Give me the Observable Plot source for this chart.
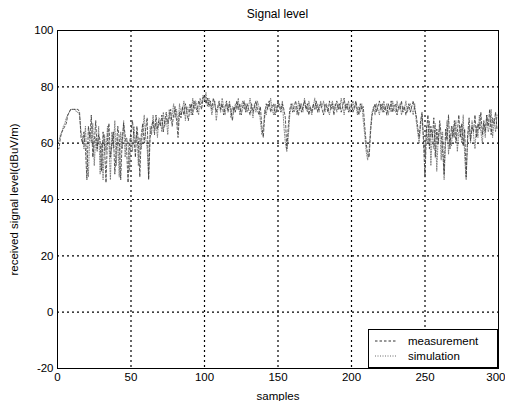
<!DOCTYPE html>
<html>
<head>
<meta charset="utf-8">
<script src="https://cdn.jsdelivr.net/npm/d3@7"></script>
<script src="https://cdn.jsdelivr.net/npm/@observablehq/plot@0.6"></script>
<style>
  html, body { margin: 0; padding: 0; background: #fff; }
  #wrap { position: relative; width: 505px; height: 401px; overflow: hidden; font-family: "Liberation Sans", Arial, sans-serif; }
  #title { position: absolute; left: 0; top: 7px; width: 505px; padding-left: 50px; box-sizing: border-box; text-align: center; font-size: 12px; line-height: 14px; color: #000; }
  #chart { position: absolute; left: 0; top: 24px; }
  #legend { position: absolute; left: 368px; top: 329px; width: 128px; height: 37px; border: 1px solid #000; background: #fff; font-size: 11.5px; color: #000; }
  .row { position: absolute; left: 0; height: 14px; width: 128px; }
  .row svg { position: absolute; left: 4px; top: 0; }
  .row span { position: absolute; left: 39px; top: 0; line-height: 14px; }
</style>
</head>
<body>
<div id="wrap">
  <div id="title">Signal level</div>
  <div id="chart"></div>
  <div id="legend"></div>
</div>
<script>
const title = "Signal level";
const xLabel = "samples";
const yLabel = "received signal level(dBuV/m)";
const seriesNames = ["measurement", "simulation"];
const xTicks = [0, 50, 100, 150, 200, 250];
const xLastTick = [300];
const yTicks = [-20, 0, 20, 40, 60, 80, 100];

const measurement = [
  58,58,62,64,65,66,67,70,71,72,
  72,72,72,72,72,71,62,60,64,58,
  47,66,62,70,55,60,68,58,63,61,
  50,64,59,46,62,67,55,60,64,49,
  58,66,62,47,61,67,63,58,46,60,
  64,68,62,55,66,61,48,63,67,60,
  65,69,47,62,66,68,63,70,65,68,
  66,70,64,68,71,67,69,72,66,70,
  73,68,62,71,69,73,70,74,71,68,
  72,74,70,75,73,71,75,74,72,76,
  77,74,76,73,75,72,76,74,71,73,
  75,72,74,70,73,75,71,74,72,68,
  73,71,75,72,74,70,73,75,71,74,
  72,70,74,71,73,75,72,70,73,66,
  62,70,74,72,75,71,73,74,70,72,
  75,73,71,74,72,69,58,66,72,74,
  71,73,75,72,70,74,71,73,75,72,
  74,70,73,71,74,72,75,71,73,74,
  72,70,74,73,71,75,72,74,70,73,
  75,72,74,71,73,76,72,74,71,73,
  74,71,73,75,72,70,74,72,73,66,
  60,56,55,64,70,72,74,71,73,75,
  72,74,71,73,70,74,72,75,71,73,
  74,70,73,72,75,71,73,70,72,74,
  71,73,75,72,70,66,62,68,71,60,
  48,64,70,58,66,62,69,55,65,60,
  68,63,57,49,65,61,70,58,66,62,
  68,60,64,70,62,67,59,65,48,63,
  69,61,66,64,70,62,67,65,71,63,
  68,64,70,66,72,63,69,67,71,65
];

const simulation = [
  60,61,63,64,66,67,69,70,71,72,
  72,72,72,71,71,70,64,62,58,66,
  55,48,64,60,67,52,62,57,66,49,
  60,47,63,57,66,60,47,64,58,68,
  52,62,48,64,58,68,55,62,60,50,
  62,57,66,60,64,52,62,58,65,70,
  62,58,48,66,63,70,65,67,62,69,
  68,64,71,66,69,63,72,68,70,74,
  69,72,66,74,70,72,75,68,73,71,
  74,70,76,72,75,73,70,76,74,77,
  75,78,73,76,74,70,73,75,68,72,
  74,71,76,73,70,74,72,75,69,73,
  71,74,72,76,70,73,75,72,74,71,
  73,76,72,69,74,71,75,73,68,63,
  65,72,70,74,73,76,72,70,74,71,
  73,74,72,75,66,60,57,62,70,73,
  74,71,73,70,75,72,74,71,76,73,
  71,75,72,70,73,76,72,74,71,75,
  73,75,71,74,72,70,73,75,72,74,
  71,74,72,76,73,70,74,72,75,71,
  73,75,72,74,70,73,71,74,68,63,
  57,54,58,66,71,73,70,74,72,70,
  74,71,75,72,74,70,73,71,75,72,
  71,75,72,74,70,73,72,75,71,73,
  74,72,70,74,68,64,60,66,70,62,
  55,66,60,68,52,64,58,67,50,62,
  66,54,64,47,60,68,56,63,59,66,
  62,68,57,64,66,60,70,55,47,61,
  66,60,68,63,58,66,62,70,64,60,
  67,62,70,64,66,72,62,68,64,70
];

const styles = {
  measurement: {dash: "2.5,2", width: 0.8, color: "#333"},
  simulation: {dash: "1,1.5", width: 0.8, color: "#6a6a6a"}
};

const mData = measurement.map((v, i) => ({x: i, y: v}));
const sData = simulation.map((v, i) => ({x: i, y: v}));
const fmt = d => String(d);

const chart = Plot.plot({
  width: 505,
  height: 377,
  marginTop: 6,
  marginBottom: 33,
  marginLeft: 57,
  marginRight: 7,
  style: {fontFamily: "'Liberation Sans', Arial, sans-serif", fontSize: "11.5px", color: "#000", background: "transparent", overflow: "visible"},
  x: {domain: [0, 300]},
  y: {domain: [-20, 100]},
  marks: [
    Plot.gridX([50, 100, 150, 200, 250], {stroke: "#000", strokeOpacity: 1, strokeDasharray: "2,3", strokeWidth: 1.2}),
    Plot.gridY([0, 20, 40, 60, 80], {stroke: "#000", strokeOpacity: 1, strokeDasharray: "2,3", strokeWidth: 1.2}),
    Plot.line(sData, {x: "x", y: "y", stroke: styles.simulation.color, strokeWidth: styles.simulation.width, strokeDasharray: styles.simulation.dash}),
    Plot.line(mData, {x: "x", y: "y", stroke: styles.measurement.color, strokeWidth: styles.measurement.width, strokeDasharray: styles.measurement.dash}),
    Plot.frame({stroke: "#000", strokeWidth: 1}),
    Plot.axisX(xTicks, {tickSize: 0, tickPadding: 4, tickFormat: fmt, label: xLabel, labelAnchor: "center", labelArrow: "none", labelOffset: 31}),
    Plot.axisX(xLastTick, {tickSize: 0, tickPadding: 4, tickFormat: fmt, textAnchor: "end", dx: 7, label: null}),
    Plot.axisY(yTicks, {tickSize: 0, tickPadding: 4, tickFormat: fmt, label: yLabel, labelAnchor: "center", labelArrow: "none", labelOffset: 48})
  ]
});
document.getElementById("chart").appendChild(chart);
document.getElementById("title").textContent = title;

const legend = document.getElementById("legend");
seriesNames.forEach((name, i) => {
  const row = document.createElement("div");
  row.className = "row";
  row.style.top = (4 + i * 15) + "px";
  const st = styles[name];
  row.innerHTML = `<svg width="26" height="14"><line x1="2" x2="24" y1="7" y2="7" stroke="${st.color}" stroke-width="1" stroke-dasharray="${st.dash}"/></svg><span>${name}</span>`;
  legend.appendChild(row);
});
</script>
</body>
</html>
